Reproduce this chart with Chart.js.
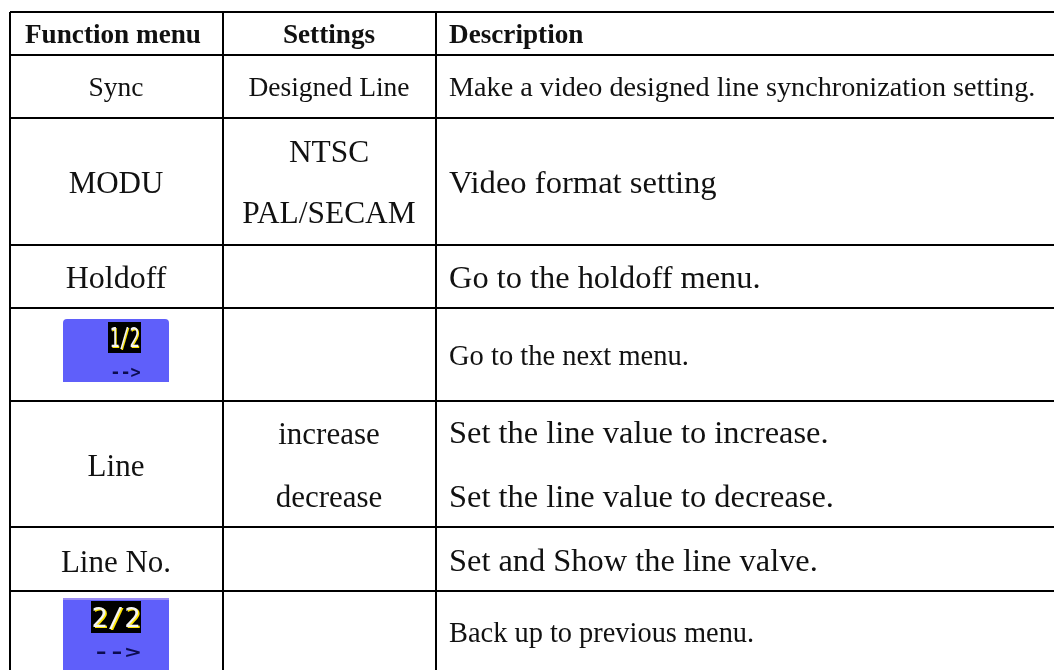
<!DOCTYPE html>
<html>
<head>
<meta charset="utf-8">
<style>
    html, body { margin: 0; padding: 0; background: #fff; }
    canvas { display: block; }
</style>
<script src="https://cdn.jsdelivr.net/npm/chart.js@4"></script>
</head>
<body>
<canvas id="myTable" width="1054" height="670"></canvas>
<script>
const headers = ['Function menu', 'Settings', 'Description'];
const functionMenu = ['Sync', 'MODU', 'Holdoff', '', 'Line', 'Line No.', ''];
const settings = [['Designed Line'], ['NTSC', 'PAL/SECAM'], [], [], ['increase', 'decrease'], [], []];
const description = [
    ['Make a video designed line synchronization setting.'],
    ['Video format setting'],
    ['Go to the holdoff menu.'],
    ['Go to the next menu.'],
    ['Set the line value to increase.', 'Set the line value to decrease.'],
    ['Set and Show the line valve.'],
    ['Back up to previous menu.']
];
const pageLabels = ['1/2', '2/2'];
const arrowLabel = '-->';

// layout, in scale units (1 unit = 1px)
const colEdges = [10, 223, 436];
const rowEdges = [12, 55, 118, 245, 308, 401, 527, 591];
const colCenters = [116, 329];
const descLeft = 449;
const headerBase = 43;
const funcBase = [96, 193, 288, 0, 476, 572, 0];
const setBase = [[96], [162, 223], [], [], [444, 507], [], []];
const descBase = [[96], [193], [288], [365], [443, 507], [571], [642]];
const funcSize = [27.5, 31, 32, 0, 31, 31, 0];
const setSize = [27.5, 31.4, 0, 0, 31, 0, 0];
const descSize = [28.2, 32.6, 32.4, 28.5, 32.4, 32.4, 28.4];
const iconBoxes = [
    { x0: 63, x1: 169, y0: 319, y1: 382, r: 4, bx0: 108, bx1: 141, by0: 322, by1: 353, ax: 125.5, ay: 378, w: 0.62, aw: 1 },
    { x0: 63, x1: 169, y0: 598, y1: 670, r: 0, bx0: 91, bx1: 141, by0: 601, by1: 633, ax: 117, ay: 658, aw: 1.55, w: 1 }
];

const tablePlugin = {
    id: 'tableText',
    afterDraw(chart) {
        const c = chart.ctx;
        const sx = chart.scales.x;
        const sy = chart.scales.y;
        const X = (v) => sx.getPixelForValue(v);
        const Y = (v) => sy.getPixelForValue(v);
        const serif = '"Liberation Serif", "Times New Roman", serif';
        c.save();
        c.textBaseline = 'alphabetic';
        c.fillStyle = '#111';

        c.font = 'bold 27.2px ' + serif;
        c.textAlign = 'center';
        c.fillText(headers[0], X(colCenters[0] - 3), Y(headerBase));
        c.fillText(headers[1], X(colCenters[1]), Y(headerBase));
        c.textAlign = 'left';
        c.fillText(headers[2], X(descLeft), Y(headerBase));

        for (let i = 0; i < functionMenu.length; i++) {
            c.textAlign = 'center';
            if (functionMenu[i]) {
                c.font = funcSize[i] + 'px ' + serif;
                c.fillText(functionMenu[i], X(colCenters[0]), Y(funcBase[i]));
            }
            settings[i].forEach((s, j) => {
                c.font = setSize[i] + 'px ' + serif;
                c.fillText(s, X(colCenters[1]), Y(setBase[i][j]));
            });
            c.font = descSize[i] + 'px ' + serif;
            c.textAlign = 'left';
            description[i].forEach((s, j) => {
                c.fillText(s, X(descLeft), Y(descBase[i][j]));
            });
        }

        // the two menu buttons
        iconBoxes.forEach((b, i) => {
            c.fillStyle = '#5f5ffa';
            c.beginPath();
            c.roundRect(X(b.x0), Y(b.y0), X(b.x1) - X(b.x0), Y(b.y1) - Y(b.y0), [b.r, b.r, 0, 0]);
            c.fill();
            if (!b.r) {
                c.fillStyle = '#9a8cf5';
                c.fillRect(X(b.x0), Y(b.y0), X(b.x1) - X(b.x0), 2);
            }
            c.fillStyle = '#000';
            c.fillRect(X(b.bx0), Y(b.by0), X(b.bx1) - X(b.bx0), Y(b.by1) - Y(b.by0));
            const mx = (X(b.bx0) + X(b.bx1)) / 2;
            c.textAlign = 'center';
            c.font = '27px "DejaVu Sans Mono", monospace';
            c.save();
            c.translate(mx, Y(b.by1) - 6);
            c.scale(b.w, 1);
            c.fillStyle = '#ffe600';
            c.fillText(pageLabels[i], 1.5, 0.5);
            c.fillStyle = '#f4f4f4';
            c.fillText(pageLabels[i], 0, 0);
            c.restore();
            c.save();
            c.translate(X(b.ax), Y(b.ay));
            c.scale(b.aw, 1);
            c.font = 'bold 17px "DejaVu Sans Mono", monospace';
            c.fillStyle = '#0c0c50';
            c.fillText(arrowLabel, 0, 0);
            c.restore();
        });
        c.restore();
    }
};

const ctx = document.getElementById('myTable');
new Chart(ctx, {
    type: 'scatter',
    data: { datasets: [{ data: [] }] },
    plugins: [tablePlugin],
    options: {
        responsive: false,
        animation: false,
        layout: { padding: { left: 10, top: 12, right: 0, bottom: 0 } },
        plugins: {
            legend: { display: false },
            tooltip: { enabled: false }
        },
        scales: {
            x: {
                type: 'linear',
                min: 10,
                max: 1054,
                afterBuildTicks: (s) => { s.ticks = colEdges.map((v) => ({ value: v })); },
                grid: { color: '#000', lineWidth: 2, drawTicks: false },
                border: { display: false },
                ticks: { display: false }
            },
            y: {
                type: 'linear',
                reverse: true,
                min: 12,
                max: 670,
                afterBuildTicks: (s) => { s.ticks = rowEdges.map((v) => ({ value: v })); },
                grid: { color: '#000', lineWidth: 2, drawTicks: false },
                border: { display: false },
                ticks: { display: false }
            }
        }
    }
});
</script>
</body>
</html>
